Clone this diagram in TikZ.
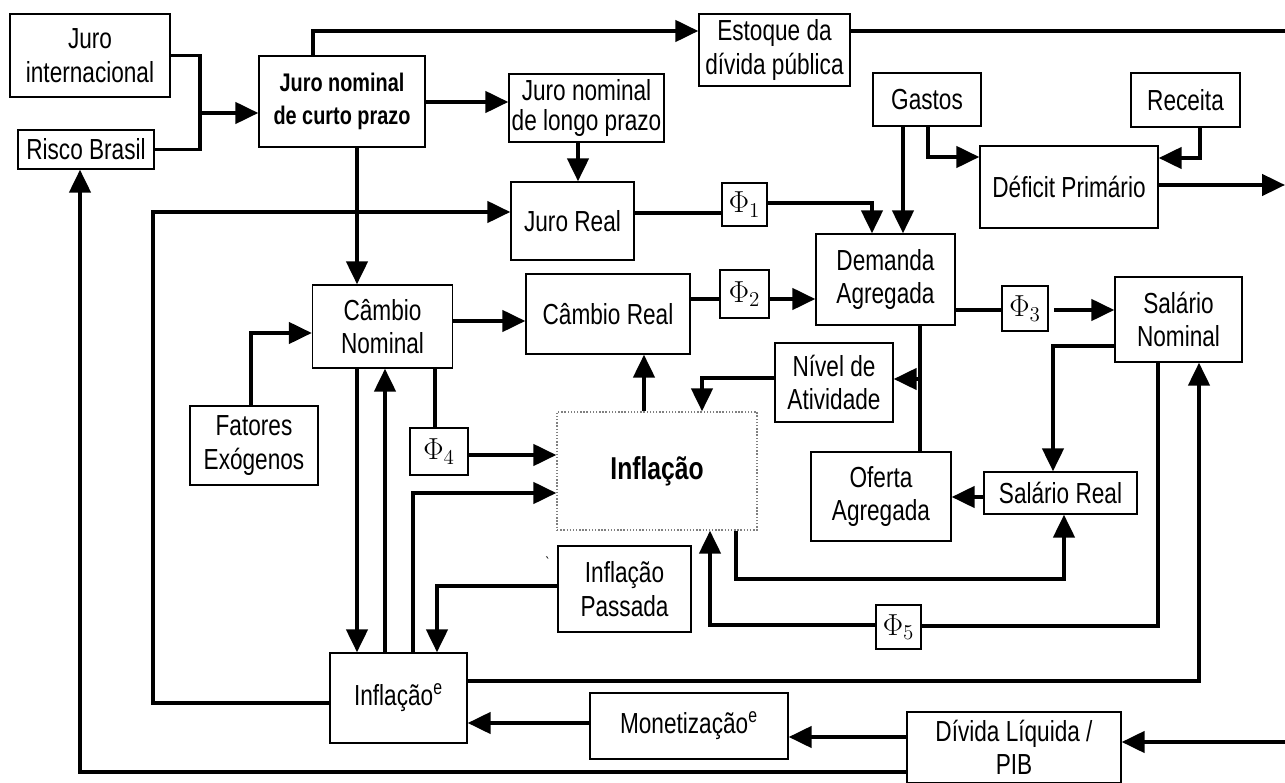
\documentclass[tikz,border=0pt]{standalone}
\usepackage{fontspec}
\setmainfont{Liberation Sans}[FakeStretch=0.78]
\usetikzlibrary{arrows.meta}
\begin{document}
\begin{tikzpicture}[x=0.02cm,y=-0.02cm,>={Triangle[length=13pt,width=12pt]},
    box/.style={draw,line width=0.8pt,inner sep=0pt,align=center,font=\fontsize{16.5}{19}\selectfont},
    phibox/.style={box,font=\fontsize{18}{20}\selectfont},
    link/.style={line width=2.2pt}]
    \useasboundingbox (0,0) rectangle (1285,783);
    % top row
    \node[box,minimum width=3.2cm,minimum height=1.66cm] (jint) at (90,55.5) {Juro\\internacional};
    \node[box,minimum width=2.72cm,minimum height=0.78cm] (risco) at (86,149.5) {Risco Brasil};
    \node[box,minimum width=3.32cm,minimum height=1.82cm,font=\fontsize{14.5}{19}\selectfont\bfseries] (jcurto) at (342,101.5) {Juro nominal\\de curto prazo};
    \node[box,minimum width=3.1cm,minimum height=1.36cm,font=\fontsize{16.5}{17}\selectfont] (jlongo) at (586.5,108) {Juro nominal\\de longo prazo};
    \node[box,minimum width=3.02cm,minimum height=1.44cm] (estoque) at (774.5,50) {Estoque da\\d\'{\i}vida p\'ublica};
    \node[box,minimum width=2.16cm,minimum height=1.06cm] (gastos) at (927,99.5) {Gastos};
    \node[box,minimum width=2.18cm,minimum height=1.08cm] (receita) at (1185.5,100) {Receita};
    \node[box,minimum width=3.56cm,minimum height=1.64cm] (deficit) at (1069,187) {D\'eficit Prim\'ario};
    \node[box,minimum width=2.46cm,minimum height=1.56cm] (jreal) at (572.5,221) {Juro Real};
    \node[phibox,minimum width=0.9cm,minimum height=0.86cm] (phi1) at (744.5,204.5) {$\Phi_1$};
    % middle
    \node[box,minimum width=2.78cm,minimum height=1.82cm] (demanda) at (885.5,279.5) {Demanda\\Agregada};
    \node[box,minimum width=2.8cm,minimum height=1.66cm] (cnom) at (382.5,326.5) {C\^ambio\\Nominal};
    \node[box,minimum width=3.28cm,minimum height=1.6cm] (creal) at (608,314) {C\^ambio Real};
    \node[phibox,minimum width=0.98cm,minimum height=0.96cm] (phi2) at (744.5,294) {$\Phi_2$};
    \node[phibox,minimum width=0.92cm,minimum height=0.9cm] (phi3) at (1025,308.5) {$\Phi_3$};
    \node[box,minimum width=2.54cm,minimum height=1.7cm] (snom) at (1178.5,319.5) {Sal\'ario\\Nominal};
    \node[box,minimum width=2.36cm,minimum height=1.58cm] (nivel) at (834,382.5) {N\'{\i}vel de\\Atividade};
    \node[box,minimum width=2.56cm,minimum height=1.58cm] (fatores) at (254,445.5) {Fatores\\Ex\'ogenos};
    \node[phibox,minimum width=1.16cm,minimum height=0.94cm] (phi4) at (439,451.5) {$\Phi_4$};
    \node[box,draw=gray,densely dotted,minimum width=4cm,minimum height=2.36cm,font=\fontsize{18}{20}\selectfont\bfseries] (infl) at (657,471) {Infla\c{c}\~ao};
    \node[box,minimum width=2.8cm,minimum height=1.78cm] (oferta) at (881,496.5) {Oferta\\Agregada};
    \node[box,minimum width=3.06cm,minimum height=0.84cm] (sreal) at (1060.5,493) {Sal\'ario Real};
    % bottom
    \node[font=\small] (tick) at (548,563) {\textasciigrave};
    \node[box,minimum width=2.66cm,minimum height=1.72cm] (ipass) at (624.5,589) {Infla\c{c}\~ao\\Passada};
    \node[phibox,minimum width=0.9cm,minimum height=0.88cm] (phi5) at (898.5,627) {$\Phi_5$};
    \node[box,minimum width=2.74cm,minimum height=1.8cm] (inflE) at (398.5,698) {Infla\c{c}\~ao\textsuperscript{e}};
    \node[box,minimum width=3.96cm,minimum height=1.32cm] (monet) at (689,726) {Monetiza\c{c}\~ao\textsuperscript{e}};
    \node[box,minimum width=4.28cm,minimum height=1.42cm] (divida) at (1014,747.5) {D\'{\i}vida L\'{\i}quida /\\PIB};
    % connectors
    \coordinate (jmerge) at (200,113);
    \draw[link] (jint.east) -| (jmerge) |- (risco.east);
    \draw[link,->] (jmerge) -- (jcurto.west |- jmerge);
    \draw[link,->] (jcurto.north -| 313,0) |- (estoque.west |- 0,31);
    \draw[link] (estoque.east |- 0,31) -- (1285,31);
    \draw[link,->] (jcurto.east |- 0,102) -- (jlongo.west |- 0,102);
    \draw[link,->] (jlongo.south -| 578,0) -- (jreal.north -| 578,0);
    \draw[link,->] (jcurto.south -| 357,0) -- (cnom.north -| 357,0);
    \draw[link,->] (inflE.west |- 0,703) -| (153,212) -- (jreal.west |- 0,212);
    \draw[link,->] (divida.west |- 0,772) -| (risco.south -| 80,0);
    \draw[link] (jreal.east |- 0,213) -- (phi1.west |- 0,213);
    \draw[link,->] (phi1.east |- 0,203) -| (demanda.north -| 872,0);
    \draw[link,->] (gastos.south -| 903,0) -- (demanda.north -| 903,0);
    \draw[link,->] (gastos.south -| 928,0) |- (deficit.west |- 0,157);
    \draw[link,->] (receita.south -| 1200,0) |- (deficit.east |- 0,158);
    \draw[link,->] (deficit.east |- 0,185) -- (1285,185);
    \draw[link,->] (cnom.east |- 0,321) -- (creal.west |- 0,321);
    \draw[link] (creal.east |- 0,299) -- (phi2.west |- 0,299);
    \draw[link,->] (phi2.east |- 0,299) -- (demanda.west |- 0,299);
    \draw[link] (demanda.east |- 0,310) -- (phi3.west |- 0,310);
    \draw[link,->] (1054,310) -- (snom.west |- 0,310);
    \draw[link] (demanda.south -| 920,0) -- (oferta.north -| 920,0);
    \draw[link,->] (920,379) -- (nivel.east |- 0,379);
    \draw[link,->] (nivel.west |- 0,378) -| (infl.north -| 702,0);
    \draw[link,->] (infl.north -| 644,0) -- (creal.south -| 644,0);
    \draw[link,->] (fatores.north -| 251,0) |- (cnom.west |- 0,333);
    \draw[link] (cnom.south -| 435,0) -- (phi4.north -| 435,0);
    \draw[link,->] (phi4.east |- 0,455) -- (infl.west |- 0,455);
    \draw[link,->] (cnom.south -| 357,0) -- (inflE.north -| 357,0);
    \draw[link,->] (inflE.north -| 385,0) -- (cnom.south -| 385,0);
    \draw[link,->] (inflE.north -| 413,0) |- (infl.west |- 0,493);
    \draw[link,->] (ipass.west |- 0,586) -| (inflE.north -| 437,0);
    \draw[link,->] (infl.south -| 736,0) |- (1064,579) -- (sreal.south -| 1064,0);
    \draw[link] (snom.south -| 1158,0) |- (phi5.east |- 0,626);
    \draw[link,->] (phi5.west |- 0,625) -| (infl.south -| 710,0);
    \draw[link,->] (inflE.east |- 0,681) -| (snom.south -| 1199,0);
    \draw[link,->] (snom.west |- 0,346) -| (sreal.north -| 1053,0);
    \draw[link,->] (sreal.west |- 0,497) -- (oferta.east |- 0,497);
    \draw[link,->] (monet.west |- 0,723) -- (inflE.east |- 0,723);
    \draw[link,->] (1285,742) -- (divida.east |- 0,742);
    \draw[link,->] (divida.west |- 0,737) -- (monet.east |- 0,737);
\end{tikzpicture}
\end{document}
